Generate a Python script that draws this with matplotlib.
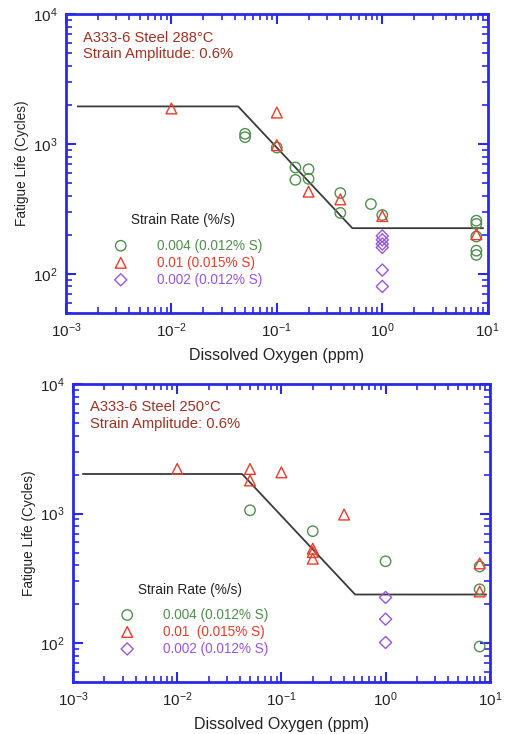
"""Fatigue life vs dissolved oxygen, A333-6 steel at 288 and 250 C."""
import matplotlib.pyplot as plt
from matplotlib.ticker import LogLocator, NullFormatter

plt.rcParams["font.family"] = ["Liberation Sans", "DejaVu Sans"]
plt.rcParams["mathtext.fontset"] = "custom"
plt.rcParams["mathtext.rm"] = "Liberation Sans"
plt.rcParams["mathtext.it"] = "Liberation Sans:italic"
plt.rcParams["mathtext.bf"] = "Liberation Sans:bold"

BLUE = "#2a2ae6"
GREEN = "#4f8f4f"
RED = "#ee3a2a"
PURPLE = "#9955e0"
TITLE = "#a03020"

# --- 288 C ---
do_288_a = [0.05, 0.05, 0.1, 0.15, 0.15, 0.2, 0.2, 0.4, 0.4, 0.78, 1.0, 7.8, 7.8, 7.8, 7.8, 7.8]
n_288_a = [1200, 1130, 940, 660, 530, 640, 540, 420, 295, 345, 284, 257, 243, 194, 151, 140]
do_288_b = [0.01, 0.1, 0.1, 0.2, 0.4, 1.0, 7.8]
n_288_b = [1880, 1750, 980, 430, 375, 279, 202]
do_288_c = [1.0, 1.0, 1.0, 1.0, 1.0, 1.0]
n_288_c = [196, 183, 170, 160, 107, 80]
fit_288_x = [1.3e-3, 0.043, 0.52, 9.0]
fit_288_y = [1950, 1950, 225, 225]

# --- 250 C ---
do_250_a = [0.05, 0.2, 1.0, 8.0, 8.0, 8.0]
n_250_a = [1060, 731, 428, 390, 260, 94]
do_250_b = [0.01, 0.05, 0.05, 0.1, 0.4, 0.2, 0.2, 0.2, 8.0, 8.0]
n_250_b = [2210, 2210, 1800, 2080, 982, 535, 504, 448, 412, 250]
do_250_c = [1.0, 1.0, 1.0]
n_250_c = [225, 153, 101]
fit_250_x = [1.25e-3, 0.042, 0.51, 9.2]
fit_250_y = [2020, 2020, 237, 237]

legend_labels = ["0.004 (0.012% S)", "0.01 (0.015% S)", "0.002 (0.012% S)"]
legend_labels_250 = ["0.004 (0.012% S)", "0.01  (0.015% S)", "0.002 (0.012% S)"]

fig = plt.figure(figsize=(5.07, 7.34), dpi=100)
ax1 = fig.add_axes([0.130, 0.5736, 0.832, 0.407])
ax2 = fig.add_axes([0.144, 0.0708, 0.822, 0.406])


def draw_panel(ax, title, fits, series, labels):
    fx, fy = fits
    ax.plot(fx, fy, color="#3a3a3a", lw=1.3, zorder=1)
    styles = [("o", GREEN), ("^", RED), ("D", PURPLE)]
    sizes = {"o": 56, "^": 60, "D": 38}
    for (x, y), (m, c) in zip(series, styles):
        ax.scatter(x, y, marker=m, s=sizes[m],
                   facecolors="none", edgecolors=c, linewidths=1.0, zorder=3)
    ax.set_xscale("log")
    ax.set_yscale("log")
    ax.set_xlim(1e-3, 1e1)
    ax.set_ylim(50, 1e4)
    ax.xaxis.set_major_locator(LogLocator(base=10, numticks=10))
    ax.xaxis.set_minor_locator(LogLocator(base=10, subs=range(2, 10), numticks=10))
    ax.yaxis.set_major_locator(LogLocator(base=10, numticks=10))
    ax.yaxis.set_minor_locator(LogLocator(base=10, subs=range(2, 10), numticks=10))
    ax.xaxis.set_minor_formatter(NullFormatter())
    ax.yaxis.set_minor_formatter(NullFormatter())
    for sp in ax.spines.values():
        sp.set_color(BLUE)
        sp.set_linewidth(2)
    ax.tick_params(which="both", direction="in", top=True, right=True,
                   color=BLUE, labelsize=11, labelcolor="#222222", pad=6)
    ax.tick_params(which="major", length=7, width=1.5)
    ax.tick_params(which="minor", length=4, width=1.2)
    ax.set_xlabel("Dissolved Oxygen (ppm)", fontsize=11.5, color="#222222", labelpad=6)
    ax.set_ylabel("Fatigue Life (Cycles)", fontsize=9.8, color="#222222", labelpad=3)
    ax.text(0.04, 0.945, title, transform=ax.transAxes, fontsize=10.6,
            color=TITLE, va="top", linespacing=1.2)

    # hand-made legend
    ax.text(0.155, 0.31, "Strain Rate (%/s)", transform=ax.transAxes,
            fontsize=9.8, color="#222222", va="center")
    for i, ((m, c), lab) in enumerate(zip(styles, labels)):
        yy = 0.225 - i * 0.057
        ax.scatter([0.13], [yy], transform=ax.transAxes, marker=m,
                   s=sizes[m], facecolors="none",
                   edgecolors=c, linewidths=1.0)
        ax.text(0.215, yy, lab, transform=ax.transAxes, fontsize=9.8,
                color=c, va="center")


draw_panel(ax1, "A333-6 Steel 288\u00b0C\nStrain Amplitude: 0.6%",
           (fit_288_x, fit_288_y),
           [(do_288_a, n_288_a), (do_288_b, n_288_b), (do_288_c, n_288_c)],
           legend_labels)
draw_panel(ax2, "A333-6 Steel 250\u00b0C\nStrain Amplitude: 0.6%",
           (fit_250_x, fit_250_y),
           [(do_250_a, n_250_a), (do_250_b, n_250_b), (do_250_c, n_250_c)],
           legend_labels_250)

fig.savefig("out.png", dpi=100)
